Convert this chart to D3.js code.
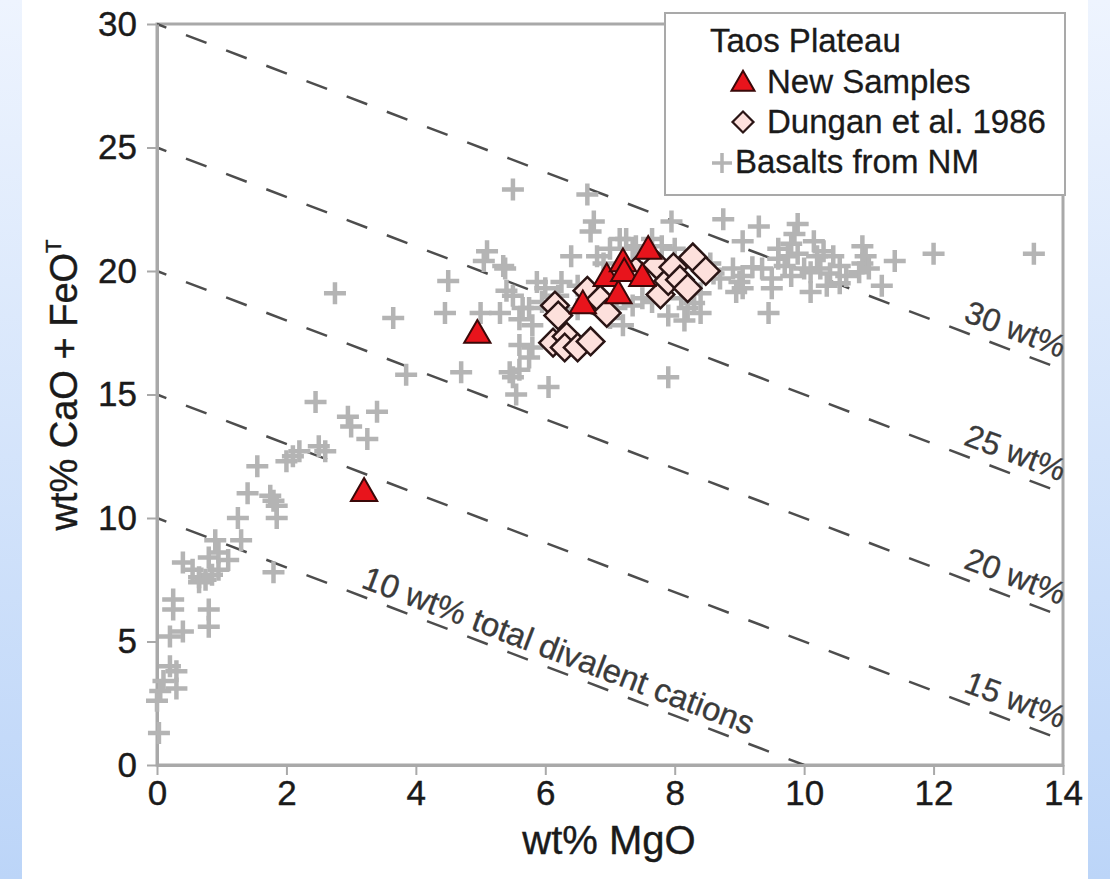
<!DOCTYPE html>
<html>
<head>
<meta charset="utf-8">
<script src="https://cdn.jsdelivr.net/npm/d3@7"></script>
<style>
  body { margin: 0; background: #fff; }
  svg { display: block; font-family: "Liberation Sans", Arial, sans-serif; }
</style>
</head>
<body>
<svg id="chart" width="1110" height="879"></svg>
<script>
// Taos Plateau: MgO vs CaO + FeO(T)
const newSamples = [
  [3.2, 11.0], [4.95, 17.4], [6.58, 18.6], [6.95, 19.7], [7.13, 19.0],
  [7.2, 20.3], [7.22, 19.9], [7.5, 19.7], [7.59, 20.8]
];
const dungan = [
  [6.15, 18.6], [6.2, 18.2], [6.12, 17.1], [6.33, 17.35], [6.3, 16.9],
  [6.5, 16.9], [6.7, 17.15], [6.65, 19.2], [6.85, 18.85], [6.95, 18.3],
  [7.4, 20.0], [7.72, 20.25], [7.78, 19.05], [7.9, 19.6], [7.98, 20.15],
  [8.08, 19.65], [8.2, 19.3], [8.28, 20.55], [8.48, 20.0]
];
const basaltsNM = [
  [0.03, 1.3], [0.0, 2.6], [0.05, 3.0], [0.3, 3.1], [0.1, 3.4], [0.3, 3.8], [0.2, 4.0],
  [0.2, 5.2], [0.4, 5.4], [0.8, 5.6], [0.8, 6.3], [0.25, 6.3], [0.25, 6.7],
  [0.4, 8.2], [0.55, 7.9], [0.65, 7.6], [0.8, 8.4], [0.95, 8.6], [0.95, 7.9],
  [0.85, 7.7], [0.65, 7.4], [1.1, 8.3], [0.75, 7.5], [1.8, 7.8],
  [0.9, 9.1], [1.3, 9.1], [1.25, 10.0], [1.4, 11.0], [1.55, 12.1],
  [1.8, 10.7], [1.85, 10.5], [1.85, 10.0], [1.75, 10.9],
  [2.1, 12.5], [2.2, 12.7], [2.5, 12.9], [2.6, 12.7], [2.0, 12.3],
  [2.45, 14.7], [2.95, 14.1], [3.4, 14.3], [3.0, 13.7], [3.25, 13.2],
  [2.75, 19.1], [3.65, 18.1], [3.85, 15.8], [4.45, 18.3], [4.5, 19.6], [4.7, 15.9],
  [5.0, 18.3], [5.3, 18.3], [5.5, 19.0], [5.1, 20.8], [5.05, 20.4], [5.35, 20.2],
  [5.5, 23.3], [5.45, 15.9], [5.55, 15.0], [5.6, 16.0], [5.5, 15.7], [5.6, 17.0],
  [5.75, 16.5], [5.8, 17.8], [5.6, 18.05], [5.65, 18.5], [5.4, 19.2], [5.75, 18.5],
  [5.95, 18.75], [6.05, 15.3], [5.8, 16.9], [5.38, 20.1],
  [6.65, 23.1], [6.75, 22.0], [6.7, 21.6], [6.4, 20.6], [6.2, 19.0], [6.0, 19.3],
  [5.87, 19.55], [6.25, 19.55], [6.5, 19.4], [6.5, 18.45], [6.75, 19.0], [7.1, 18.5],
  [7.35, 18.6], [7.65, 18.75], [8.1, 18.9], [8.2, 18.5], [7.9, 18.2], [8.15, 18.0],
  [8.4, 18.3], [7.9, 15.7], [7.2, 17.8], [7.0, 18.1], [7.5, 18.9], [8.3, 18.7],
  [7.15, 21.3], [7.25, 21.3], [7.0, 20.9], [7.35, 20.9], [7.4, 21.0], [6.9, 20.3],
  [6.8, 20.6], [7.95, 22.0], [8.75, 22.1], [7.8, 21.0], [7.65, 21.3], [8.0, 20.9],
  [9.05, 21.2], [9.3, 21.8], [9.9, 21.9], [9.85, 21.5], [9.8, 21.1], [9.9, 20.7],
  [9.75, 20.6], [10.15, 21.2], [10.3, 20.8], [10.9, 21.0], [10.95, 20.6], [10.9, 20.3],
  [11.0, 20.1], [10.85, 19.95], [11.4, 20.4], [11.2, 19.4], [12.0, 20.7], [13.55, 20.7],
  [9.45, 18.3], [10.1, 19.15], [10.55, 19.5],
  [8.7, 19.7], [8.9, 20.1], [9.0, 19.55], [8.95, 19.15], [9.05, 19.8], [9.2, 20.15],
  [9.35, 20.1], [9.5, 19.7], [9.5, 19.3], [9.05, 19.3], [9.7, 20.2], [10.0, 20.1],
  [10.1, 19.95], [10.25, 20.1], [10.4, 19.9], [10.45, 20.6], [10.2, 20.6], [10.55, 20.2],
  [10.65, 19.8], [10.35, 19.4], [9.6, 20.9], [9.6, 20.5], [9.8, 19.8],
  [8.55, 20.3], [8.6, 19.9], [8.4, 19.1]
];
const totals = [10, 15, 20, 25, 30];
const totalLabels = ["10 wt% total divalent cations", "15 wt%", "20 wt%", "25 wt%", "30 wt%"];
const xTicks = [0, 2, 4, 6, 8, 10, 12, 14];
const yTicks = [0, 5, 10, 15, 20, 25, 30];
const legendLabels = ["New Samples", "Dungan et al. 1986", "Basalts from NM"];

const svg = d3.select("#chart");
const x = d3.scaleLinear().domain([0, 14]).range([157, 1063]);
const y = d3.scaleLinear().domain([0, 30]).range([765, 24]);
const axisGrey = "#a9a9a9";
const ink = "#1a1a1a";

// blue side strips
const defs = svg.append("defs");
const grad = defs.append("linearGradient").attr("id", "side")
  .attr("x1", 0).attr("y1", 0).attr("x2", 0).attr("y2", 1);
grad.append("stop").attr("offset", 0).attr("stop-color", "#eef4fe");
grad.append("stop").attr("offset", 1).attr("stop-color", "#bcd5f8");
svg.append("rect").attr("x", 0).attr("y", 0).attr("width", 22).attr("height", 879).attr("fill", "url(#side)");
svg.append("rect").attr("x", 1088).attr("y", 0).attr("width", 22).attr("height", 879).attr("fill", "url(#side)");

// frame
svg.append("rect")
  .attr("x", x(0)).attr("y", y(30))
  .attr("width", x(14) - x(0)).attr("height", y(0) - y(30))
  .attr("fill", "none").attr("stroke", axisGrey).attr("stroke-width", 3);

// total divalent cation lines: MgO + CaO + FeO = T
const line = d3.line().x((d) => x(d[0])).y((d) => y(d[1]));
const clipX = (t) => Math.min(14, t);
svg.append("g").selectAll("path")
  .data(totals)
  .enter()
  .append("path")
  .attr("d", (t) => line([[0, t], [clipX(t), t - clipX(t)]]))
  .attr("fill", "none")
  .attr("stroke", "#4d4d4d")
  .attr("stroke-width", 2.5)
  .attr("stroke-dasharray", "22,21")
  .attr("stroke-dashoffset", 12);

const angle = (Math.atan2(y(0) - y(1), x(1) - x(0)) * 180) / Math.PI;
const labelX = [6.1, 13.15, 13.15, 13.15, 13.15];
svg.append("g").selectAll("text")
  .data(totals)
  .enter()
  .append("text")
  .attr("transform", (t, i) => `translate(${x(labelX[i])},${y(t - labelX[i])}) rotate(${angle})`)
  .attr("y", (t, i) => (i === 0 ? -8 : -10))
  .attr("text-anchor", "middle")
  .attr("font-size", (t, i) => (i === 0 ? 33 : 32))
  .attr("fill", "#3a3a3a")
  .attr("stroke", "#3a3a3a").attr("stroke-width", 0.3)
  .text((t, i) => totalLabels[i]);

// axes
const xAxis = svg.append("g")
  .attr("transform", `translate(0,${y(0)})`)
  .call(d3.axisBottom(x).tickValues(xTicks).tickSize(10).tickSizeOuter(0).tickPadding(5));
const yAxis = svg.append("g")
  .attr("transform", `translate(${x(0)},0)`)
  .call(d3.axisLeft(y).tickValues(yTicks).tickSize(10).tickSizeOuter(0).tickPadding(10));
[xAxis, yAxis].forEach((g) => {
  g.select(".domain").attr("stroke", axisGrey).attr("stroke-width", 3);
  g.selectAll(".tick line").attr("stroke", axisGrey).attr("stroke-width", 2);
  g.selectAll(".tick text").attr("font-size", 35).attr("fill", ink)
    .attr("stroke", ink).attr("stroke-width", 0.4)
    .attr("font-family", "'Liberation Sans', Arial, sans-serif");
});

svg.append("text")
  .attr("x", 609).attr("y", 854)
  .attr("text-anchor", "middle").attr("font-size", 40).attr("fill", ink)
  .attr("stroke", ink).attr("stroke-width", 0.4)
  .text("wt% MgO");

const yTitle = svg.append("text")
  .attr("transform", "translate(77,385) rotate(-90)")
  .attr("text-anchor", "middle").attr("font-size", 38).attr("fill", ink)
  .attr("stroke", ink).attr("stroke-width", 0.4);
yTitle.append("tspan").text("wt% CaO + FeO");
yTitle.append("tspan").attr("font-size", 22).attr("dy", -16).text("T");

// markers
const plusPath = "M-11,0H11M0,-11V11";
const tri = d3.symbol(d3.symbolTriangle, 300);
const sq = d3.symbol(d3.symbolSquare, 380);

svg.append("g").selectAll("path")
  .data(basaltsNM)
  .enter()
  .append("path")
  .attr("transform", (d) => `translate(${x(d[0])},${y(d[1])})`)
  .attr("d", plusPath)
  .attr("stroke", "#b4b4b4")
  .attr("stroke-width", 4.5)
  .attr("fill", "none");

svg.append("g").selectAll("path")
  .data(dungan)
  .enter()
  .append("path")
  .attr("transform", (d) => `translate(${x(d[0])},${y(d[1])}) rotate(45)`)
  .attr("d", sq)
  .attr("fill", "#fde0dc")
  .attr("stroke", "#2a1515")
  .attr("stroke-width", 2.5);

svg.append("g").selectAll("path")
  .data(newSamples)
  .enter()
  .append("path")
  .attr("transform", (d) => `translate(${x(d[0])},${y(d[1])})`)
  .attr("d", tri)
  .attr("fill", "#e8141c")
  .attr("stroke", "#3a0808")
  .attr("stroke-width", 2);

// legend
const legend = svg.append("g");
legend.append("rect")
  .attr("x", 665).attr("y", 13).attr("width", 400).attr("height", 182)
  .attr("fill", "#fff").attr("stroke", axisGrey).attr("stroke-width", 2);
legend.append("text").attr("x", 710).attr("y", 52)
  .attr("font-size", 33).attr("fill", ink)
  .attr("stroke", ink).attr("stroke-width", 0.3).text("Taos Plateau");
const legendY = [93, 133, 173];
const legendX = [767, 767, 735];
legend.selectAll("text.item")
  .data(legendLabels)
  .enter()
  .append("text")
  .attr("class", "item")
  .attr("x", (d, i) => legendX[i]).attr("y", (d, i) => legendY[i])
  .attr("font-size", 33).attr("fill", ink)
  .attr("stroke", ink).attr("stroke-width", 0.3)
  .text((d) => d);
legend.append("path")
  .attr("transform", "translate(743,84)")
  .attr("d", d3.symbol(d3.symbolTriangle, 230)())
  .attr("fill", "#e8141c").attr("stroke", "#3a0808").attr("stroke-width", 2);
legend.append("path")
  .attr("transform", "translate(743,122) rotate(45)")
  .attr("d", d3.symbol(d3.symbolSquare, 220)())
  .attr("fill", "#fde0dc").attr("stroke", "#2a1515").attr("stroke-width", 2.2);
legend.append("path")
  .attr("transform", "translate(722,163)")
  .attr("d", "M-10,0H10M0,-10V10")
  .attr("stroke", "#b4b4b4").attr("stroke-width", 3.5);
</script>
</body>
</html>
